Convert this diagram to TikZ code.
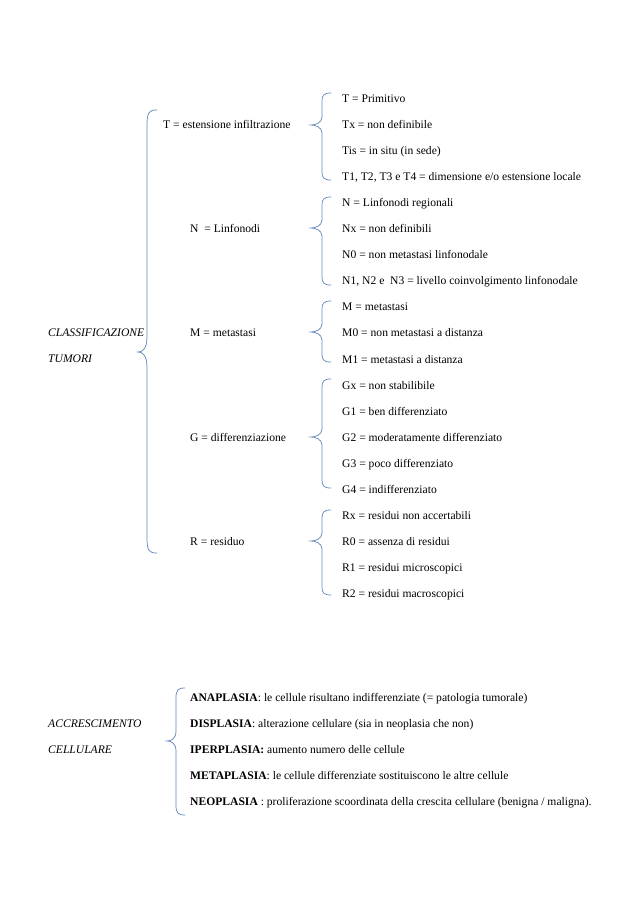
\documentclass[tikz,border=0pt]{standalone}
\usepackage{fontspec}
\setmainfont{Liberation Serif}
\definecolor{bracecol}{HTML}{6388C0}
\begin{document}
\begin{tikzpicture}[x=1pt,y=-1pt,
  txt/.style={anchor=base west,inner sep=0pt,font=\fontsize{11.6}{13}\selectfont},
  itx/.style={txt,font=\fontsize{11.6}{13}\selectfont\itshape},
  brc/.style={draw=bracecol,line width=0.75pt,line cap=round}]
\useasboundingbox (0,0) rectangle (637,900);
% brace macro: xe = ends x, xv = vertical x, xt = tip x, yt, ym, yb, r
\newcommand\wbrace[7]{%
  \draw[brc] (#1,#4) .. controls (#2+2,#4) and (#2,#4+2) .. (#2,#4+#7)
    -- (#2,#5-#7) .. controls (#2,#5-2) and (#3+4,#5) .. (#3,#5)
    .. controls (#3+4,#5) and (#2,#5+2) .. (#2,#5+#7)
    -- (#2,#6-#7) .. controls (#2,#6-2) and (#2+2,#6) .. (#1,#6);}
% big brace
\wbrace{157}{147}{138}{110}{352}{553}{16}
% small braces
\wbrace{331}{322}{311}{93}{125}{180}{8}
\wbrace{331}{322}{311}{197}{228}{285}{8}
\wbrace{331}{322}{311}{301}{332}{362}{8}
\wbrace{331}{322}{311}{379}{437}{488}{8}
\wbrace{331}{322}{311}{510}{541}{595}{8}
% bottom brace
\wbrace{185}{176}{167}{688}{741}{815}{10}

\node[itx] (c1) at (48,336) {CLASSIFICAZIONE};
\node[itx] (c2) at (48,362) {TUMORI};

\node[txt] (lT) at (163,128) {T = estensione infiltrazione};
\node[txt] (lN) at (190,232) {N\ \ = Linfonodi};
\node[txt] (lM) at (190,336) {M = metastasi};
\node[txt] (lG) at (190,441) {G = differenziazione};
\node[txt] (lR) at (190,545) {R = residuo};

\node[txt] (i1) at (342,102.0) {T = Primitivo};
\node[txt] (i2) at (342,128.1) {Tx = non definibile};
\node[txt] (i3) at (342,154.2) {Tis = in situ (in sede)};
\node[txt] (i4) at (342,180.3) {T1, T2, T3 e T4 = dimensione e/o estensione locale};
\node[txt] (i5) at (342,206.4) {N = Linfonodi regionali};
\node[txt] (i6) at (342,232.5) {Nx = non definibili};
\node[txt] (i7) at (342,258.6) {N0 = non metastasi linfonodale};
\node[txt] (i8) at (342,284.7) {N1, N2 e\ \ N3 = livello coinvolgimento linfonodale};
\node[txt] (i9) at (342,310.8) {M = metastasi};
\node[txt] (i10) at (342,336.9) {M0 = non metastasi a distanza};
\node[txt] (i11) at (342,363.0) {M1 = metastasi a distanza};
\node[txt] (i12) at (342,389.1) {Gx = non stabilibile};
\node[txt] (i13) at (342,415.2) {G1 = ben differenziato};
\node[txt] (i14) at (342,441.3) {G2 = moderatamente differenziato};
\node[txt] (i15) at (342,467.4) {G3 = poco differenziato};
\node[txt] (i16) at (342,493.5) {G4 = indifferenziato};
\node[txt] (i17) at (342,519.6) {Rx = residui non accertabili};
\node[txt] (i18) at (342,545.7) {R0 = assenza di residui};
\node[txt] (i19) at (342,571.8) {R1 = residui microscopici};
\node[txt] (i20) at (342,597.9) {R2 = residui macroscopici};

\node[itx] (a1) at (48,727) {ACCRESCIMENTO};
\node[itx] (a2) at (48,753) {CELLULARE};

\node[txt] (b1) at (190,701) {\textbf{ANAPLASIA}: le cellule risultano indifferenziate (= patologia tumorale)};
\node[txt] (b2) at (190,727) {\textbf{DISPLASIA}: alterazione cellulare (sia in neoplasia che non)};
\node[txt] (b3) at (190,753) {\textbf{IPERPLASIA:} aumento numero delle cellule};
\node[txt] (b4) at (190,779) {\textbf{METAPLASIA}: le cellule differenziate sostituiscono le altre cellule};
\node[txt] (b5) at (190,805) {\textbf{NEOPLASIA} : proliferazione scoordinata della crescita cellulare (benigna / maligna).};
\end{tikzpicture}
\end{document}
